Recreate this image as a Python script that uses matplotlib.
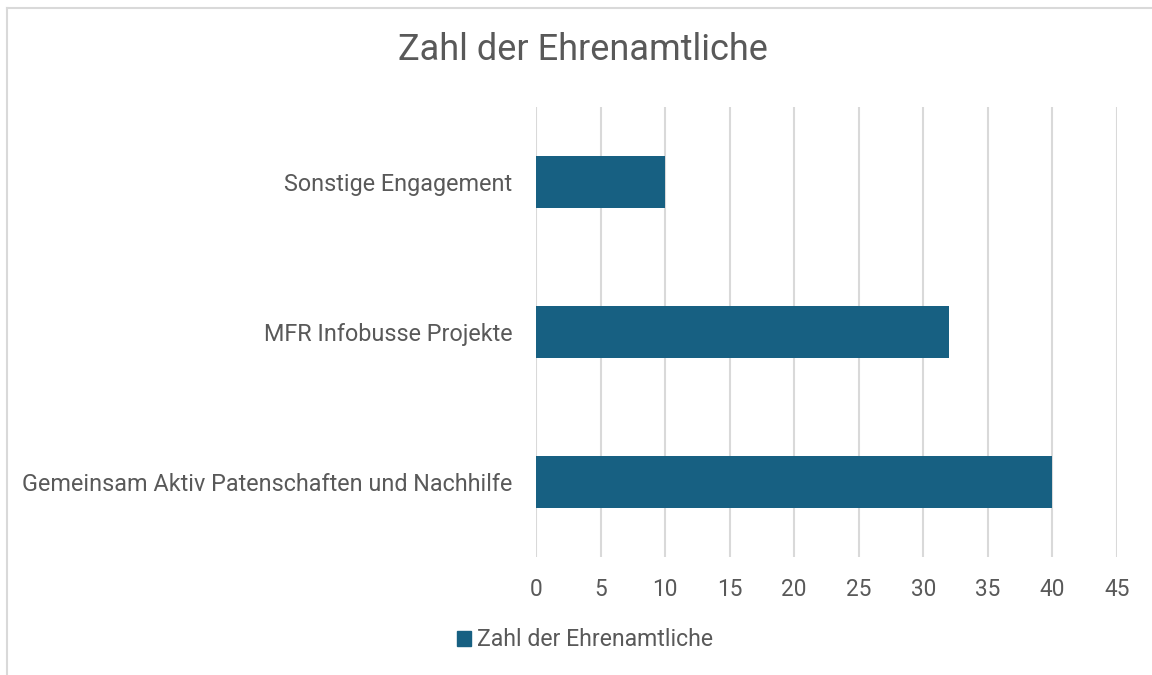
import matplotlib.pyplot as plt
from matplotlib.patches import Patch

categories = ['Gemeinsam Aktiv Patenschaften und Nachhilfe', 'MFR Infobusse Projekte', 'Sonstige Engagement']
values = [40, 32, 10]
series_name = 'Zahl der Ehrenamtliche'
x_ticks = [0, 5, 10, 15, 20, 25, 30, 35, 40, 45]

plt.rcParams['font.family'] = ['Roboto', 'DejaVu Sans']
text_col = '#595959'
bar_col = '#176082'
grid_col = '#d9d9d9'

fig = plt.figure(figsize=(11.52, 6.75), dpi=100)
ax = fig.add_axes([0.4653, 0.1748, 0.5043, 0.6667])

ax.barh(range(len(categories)), values, height=0.35, color=bar_col, zorder=3)
ax.set_yticks(range(len(categories)))
ax.set_yticklabels(categories)
ax.set_ylim(-0.5, len(categories) - 0.5)
ax.set_xlim(0, 45)
ax.set_xticks(x_ticks)
ax.xaxis.grid(True, color=grid_col, linewidth=1.5)
ax.set_axisbelow(True)
for s in ax.spines.values():
    s.set_visible(False)
ax.tick_params(axis='x', length=0, labelsize=16.3, colors=text_col, pad=15)
ax.tick_params(axis='y', length=0, labelsize=16.8, colors=text_col, pad=17)

fig.text(0.5056, 0.926, series_name, ha='center', va='center', fontsize=26, color=text_col)

fig.legend(handles=[Patch(color=bar_col, label=series_name)], loc='center',
           bbox_to_anchor=(0.508, 0.052), frameon=False, fontsize=16.6,
           labelcolor=text_col, handlelength=0.6, handleheight=0.6, handletextpad=0.25)

# chart border (only top and left visible in the crop)
fig.add_artist(plt.Line2D([0.0065, 0.0065], [0, 0.988], color=grid_col, linewidth=1.5))
fig.add_artist(plt.Line2D([0.0065, 1], [0.988, 0.988], color=grid_col, linewidth=1.5))

fig.savefig('out.png', dpi=100)
